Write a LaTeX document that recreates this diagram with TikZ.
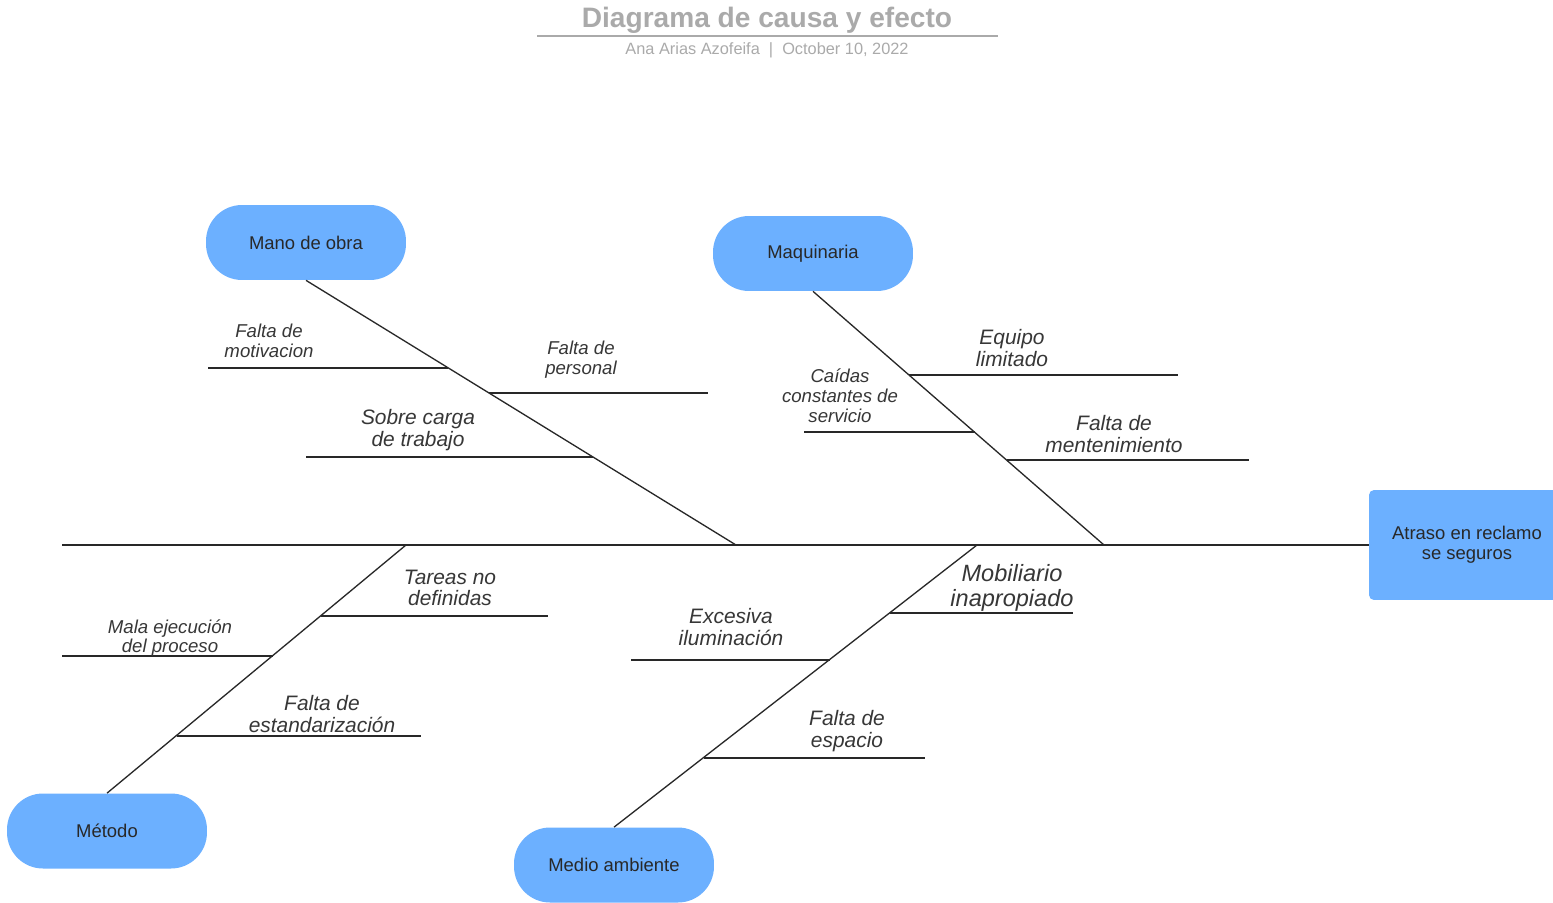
\documentclass[tikz,border=0pt]{standalone}
\usepackage{fontspec}
\setmainfont{Liberation Sans}
\definecolor{catblue}{RGB}{108,176,255}
\definecolor{ink}{RGB}{40,40,40}
\definecolor{lbl}{RGB}{55,55,55}
\definecolor{ttl}{RGB}{170,170,170}
\begin{document}
\begin{tikzpicture}[x=0.02cm,y=-0.02cm,
  cat/.style={fill=catblue,draw=none,rounded corners=0.72cm,minimum width=4cm,minimum height=1.5cm,
    font=\fontsize{10.5}{12}\selectfont,text=ink},
  effect/.style={fill=catblue,draw=none,rounded corners=0.1cm,minimum width=3.92cm,minimum height=2.2cm,
    align=center,font=\fontsize{10.5}{11.5}\selectfont,text=ink},
  bone/.style={draw=ink,line width=0.75pt},
  sm/.style={align=center,text=lbl,font=\fontsize{10.6}{11.3}\selectfont\itshape,inner sep=0pt},
  md/.style={align=center,text=lbl,font=\fontsize{11.9}{12.2}\selectfont\itshape,inner sep=0pt},
  lg/.style={align=center,text=lbl,font=\fontsize{13.4}{13.8}\selectfont\itshape,inner sep=0pt}]
\clip (0,0) rectangle (1553,903);
\fill[white] (0,0) rectangle (1553,903);

% title
\node[text=ttl,font=\fontsize{16}{18}\selectfont\bfseries] (title) at (767,20) {Diagrama de causa y efecto};
\coordinate (tl) at (537,36);
\coordinate (tr) at (998,36);
\draw[ttl,line width=0.6pt] (tl) -- (tr);
\node[text=ttl,font=\fontsize{9.3}{11}\selectfont] (sub) at (767,50) {Ana Arias Azofeifa \ | \ October 10, 2022};

% effect and categories
\node[effect] (eff) at (1467,545) {Atraso en reclamo\\se seguros};
\node[cat] (mano) at (306,242.5) {Mano de obra};
\node[cat] (maq) at (813,253.5) {Maquinaria};
\node[cat] (met) at (107,831) {Método};
\node[cat] (med) at (614,865) {Medio ambiente};

% spine
\coordinate (tail) at (62,545);
\draw[bone] (tail) -- (eff.west);

% main bones
\coordinate (jMano) at (736,545);
\coordinate (jMaq) at (1104,545);
\coordinate (jMet) at (406,545);
\coordinate (jMed) at (977,545);
\draw[bone] (mano.south) -- (jMano);
\draw[bone] (maq.south) -- (jMaq);
\draw[bone] (met.north) -- (jMet);
\draw[bone] (med.north) -- (jMed);

% Mano de obra sub-bones
\coordinate (a1) at (448,368);  \coordinate (a1e) at (208,368);
\coordinate (a2) at (489,393);  \coordinate (a2e) at (708,393);
\coordinate (a3) at (593,457);  \coordinate (a3e) at (306,457);
\draw[bone] (a1) -- (a1e);
\draw[bone] (a2) -- (a2e);
\draw[bone] (a3) -- (a3e);
\node[sm] (la1) at (269,341) {Falta de\\motivacion};
\node[sm] (la2) at (581,360) {Falta de\\personal};
\node[md] (la3) at (418,430) {Sobre carga\\de trabajo};

% Maquinaria sub-bones
\coordinate (b1) at (909,375);  \coordinate (b1e) at (1178,375);
\coordinate (b2) at (974.5,432); \coordinate (b2e) at (804,432);
\coordinate (b3) at (1006.6,460); \coordinate (b3e) at (1249,460);
\draw[bone] (b1) -- (b1e);
\draw[bone] (b2) -- (b2e);
\draw[bone] (b3) -- (b3e);
\node[md] (lb1) at (1012,348) {Equipo\\limitado};
\node[sm] (lb2) at (840,396) {Caídas\\constantes de\\servicio};
\node[md] (lb3) at (1114,434) {Falta de\\mentenimiento};

% Metodo sub-bones
\coordinate (c1) at (320.7,616); \coordinate (c1e) at (548,616);
\coordinate (c2) at (272.7,656); \coordinate (c2e) at (62,656);
\coordinate (c3) at (176.6,736); \coordinate (c3e) at (421,736);
\draw[bone] (c1) -- (c1e);
\draw[bone] (c2) -- (c2e);
\draw[bone] (c3) -- (c3e);
\node[md] (lc1) at (450,588) {Tareas no\\definidas};
\node[sm] (lc2) at (170,638) {Mala ejecución\\del proceso};
\node[md] (lc3) at (322,714) {Falta de\\estandarización};

% Medio ambiente sub-bones
\coordinate (d1) at (889.8,613); \coordinate (d1e) at (1073,613);
\coordinate (d2) at (829.5,660); \coordinate (d2e) at (631,660);
\coordinate (d3) at (703.8,758); \coordinate (d3e) at (925,758);
\draw[bone] (d1) -- (d1e);
\draw[bone] (d2) -- (d2e);
\draw[bone] (d3) -- (d3e);
\node[lg] (ld1) at (1012,588) {Mobiliario\\inapropiado};
\node[md] (ld2) at (731,627) {Excesiva\\iluminación};
\node[md] (ld3) at (847,731) {Falta de\\espacio};
\end{tikzpicture}
\end{document}
